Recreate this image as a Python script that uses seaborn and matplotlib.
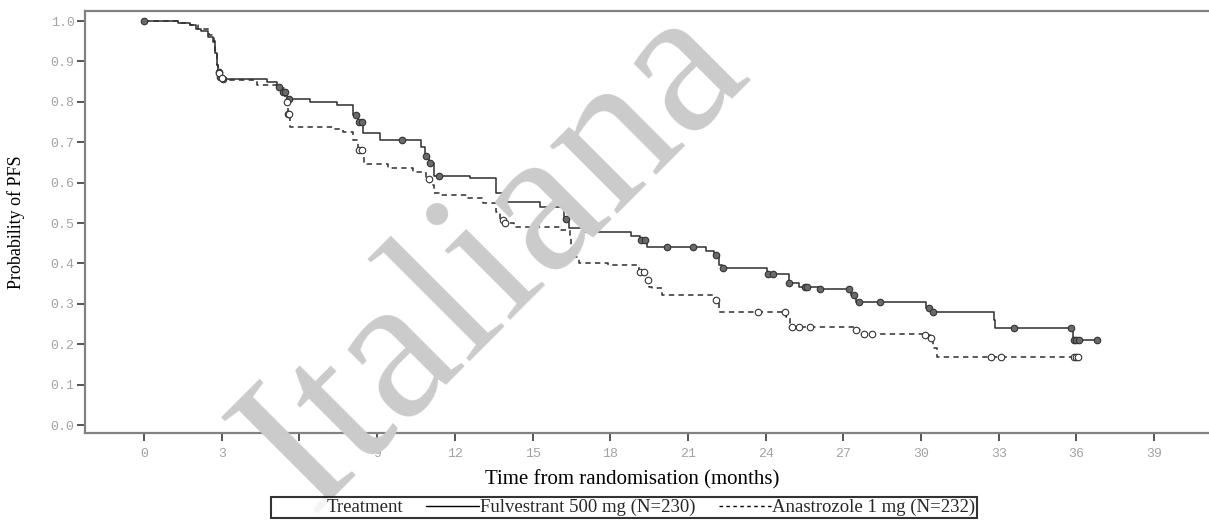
import numpy as np
import pandas as pd
import matplotlib
matplotlib.use("Agg")
import matplotlib.pyplot as plt
from matplotlib.lines import Line2D
import seaborn as sns

# Kaplan-Meier step points (months, probability of PFS)
fulv_time = [0, 1.3, 1.78, 2.0, 2.2, 2.47, 2.67, 2.75, 2.8, 2.85, 2.93, 3.0, 4.75, 5.13, 5.3, 5.5, 5.6,
             6.4, 7.45, 8.07, 8.26, 8.46, 9.1, 10.7, 10.85, 11.0, 11.2, 12.6, 13.6, 13.9, 15.3, 16.2,
             16.4, 16.95, 18.8, 19.15, 19.4, 21.7, 22.0, 22.2, 22.3, 24.05, 24.9, 25.3, 26.1, 27.3,
             27.5, 30.2, 30.4, 32.8, 32.85, 35.85, 36.8]
fulv_surv = [1.0, 0.995, 0.99, 0.98, 0.975, 0.96, 0.948, 0.92, 0.89, 0.874, 0.861, 0.856, 0.848, 0.837,
             0.825, 0.81, 0.807, 0.80, 0.792, 0.767, 0.75, 0.723, 0.705, 0.688, 0.665, 0.648, 0.616,
             0.612, 0.575, 0.553, 0.54, 0.51, 0.488, 0.478, 0.468, 0.458, 0.44, 0.43, 0.42, 0.396,
             0.389, 0.373, 0.351, 0.342, 0.336, 0.322, 0.305, 0.29, 0.28, 0.26, 0.239, 0.21, 0.21]
fulv_cens = [0, 2.9, 2.95, 3.05, 5.2, 5.35, 5.45, 5.6, 8.2, 8.3, 8.4, 9.96, 10.9, 11.05, 11.4, 16.3,
             19.2, 19.35, 20.2, 21.2, 22.1, 22.35, 24.1, 24.3, 24.9, 25.5, 25.6, 26.1, 27.2, 27.4,
             27.6, 28.4, 30.3, 30.45, 33.6, 35.8, 35.9, 36.0, 36.1, 36.8]

anas_time = [0, 1.3, 1.78, 2.1, 2.5, 2.7, 2.75, 2.8, 2.85, 2.95, 3.1, 4.36, 5.25, 5.45, 5.55, 5.65,
             7.3, 7.7, 8.07, 8.26, 8.5, 8.6, 9.4, 10.4, 10.9, 11.05, 11.2, 11.4, 12.5, 13.1, 13.6,
             13.75, 13.9, 14.3, 16.1, 16.45, 16.5, 16.8, 17.9, 19.1, 19.35, 19.5, 19.6, 20.0, 22.05,
             22.2, 24.8, 24.95, 27.4, 27.65, 30.1, 30.35, 30.45, 30.6, 36.05]
anas_surv = [1.0, 0.995, 0.99, 0.98, 0.965, 0.95, 0.92, 0.89, 0.872, 0.86, 0.855, 0.842, 0.834, 0.80,
             0.77, 0.738, 0.732, 0.726, 0.705, 0.68, 0.652, 0.646, 0.636, 0.626, 0.61, 0.594, 0.574,
             0.569, 0.562, 0.549, 0.527, 0.507, 0.50, 0.49, 0.483, 0.466, 0.416, 0.401, 0.396, 0.379,
             0.359, 0.342, 0.339, 0.322, 0.309, 0.28, 0.268, 0.242, 0.235, 0.225, 0.222, 0.215, 0.19,
             0.168, 0.168]
anas_cens = [2.9, 3.0, 5.5, 5.55, 5.6, 8.3, 8.4, 11.0, 13.85, 13.95, 19.15, 19.3, 19.45, 22.1, 23.7,
             24.75, 25.0, 25.3, 25.7, 27.5, 27.8, 28.1, 30.15, 30.4, 32.7, 33.1, 35.9, 36.0, 36.05]

x_ticks = list(range(0, 40, 3))
y_ticks = [0.0, 0.1, 0.2, 0.3, 0.4, 0.5, 0.6, 0.7, 0.8, 0.9, 1.0]
labels = ["Fulvestrant 500 mg (N=230)", "Anastrozole 1 mg (N=232)"]


def censor_points(times, surv, cens):
    times = np.array(times)
    idx = np.searchsorted(times, np.array(cens), side="right") - 1
    return pd.DataFrame({"t": cens, "s": np.array(surv)[idx]})


sns.set_theme(style="white")
plt.rcParams["font.family"] = ["Liberation Serif", "DejaVu Serif"]

fig = plt.figure(figsize=(12.09, 5.20), dpi=100)
ax = fig.add_axes([0.0703, 0.1673, 0.9347, 0.8115])

# watermark behind the curves
fig.text(0.41, 0.505, "Italiana", rotation=45, rotation_mode="anchor", ha="center", va="center",
         fontsize=150, color="#cbcbcb", family="Liberation Serif", zorder=0)
ax.patch.set_alpha(0)

line_col = "#2e2e2e"
sns.lineplot(x=fulv_time, y=fulv_surv, ax=ax, drawstyle="steps-post", estimator=None,
             color=line_col, linewidth=1.1)
sns.lineplot(x=anas_time, y=anas_surv, ax=ax, drawstyle="steps-post", estimator=None,
             color=line_col, linewidth=1.1, linestyle=(0, (3.5, 2.8)))

fc = censor_points(fulv_time, fulv_surv, fulv_cens)
ac = censor_points(anas_time, anas_surv, anas_cens)
sns.scatterplot(data=fc, x="t", y="s", ax=ax, marker="o", s=22, color="#6a6a6a",
                edgecolor="#333333", linewidth=0.8, zorder=3)
sns.scatterplot(data=ac, x="t", y="s", ax=ax, marker="o", s=22, color="white",
                edgecolor="#333333", linewidth=0.8, zorder=3)

ax.set_xlim(-2.28, 41.35)
ax.set_ylim(-0.0198, 1.0248)
ax.set_xticks(x_ticks)
ax.set_xticklabels([str(v) for v in x_ticks])
ax.set_yticks(y_ticks)
ax.set_yticklabels([f"{v:.1f}" for v in y_ticks])

for lab in ax.get_xticklabels() + ax.get_yticklabels():
    lab.set_family("Liberation Mono")
    lab.set_fontsize(9.5)
    lab.set_color("#a3a3a3")
ax.tick_params(axis="x", direction="out", length=5.5, width=1.4, color="#555555", pad=5)
ax.tick_params(axis="y", direction="out", length=5.5, width=1.4, color="#555555", pad=2)
ax.xaxis.set_ticks_position("bottom")
ax.yaxis.set_ticks_position("left")

for side in ["left", "bottom", "top", "right"]:
    ax.spines[side].set_color("#828282")
    ax.spines[side].set_linewidth(1.6)

ax.set_xlabel("Time from randomisation (months)", fontsize=15, color="black")
ax.xaxis.set_label_coords(0.484, -0.088)
ax.set_ylabel("Probability of PFS", fontsize=13, color="black")
ax.yaxis.set_label_coords(-0.053, 0.5)

handles = [Line2D([], [], color="none"),
           Line2D([], [], color="black", linewidth=1.0),
           Line2D([], [], color="black", linewidth=1.0, linestyle=(0, (2.5, 2.5)))]
leg = fig.legend(handles, ["Treatment"] + labels, loc="upper left", ncol=3,
                 bbox_to_anchor=(271 / 1209, 1 - 497 / 520), borderaxespad=0,
                 fontsize=13.5, frameon=True, fancybox=False, handlelength=2.8,
                 handletextpad=0.05, columnspacing=1.25, borderpad=0.1)
leg.get_frame().set_edgecolor("black")
leg.get_frame().set_linewidth(1.5)

fig.savefig("out.png", dpi=100)
